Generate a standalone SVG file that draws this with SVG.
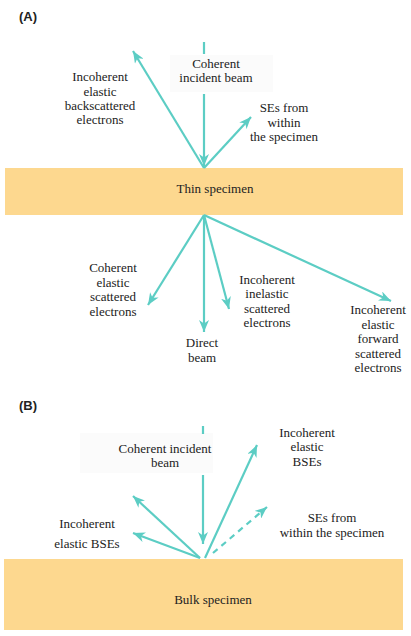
<svg xmlns="http://www.w3.org/2000/svg" width="411" height="636" viewBox="0 0 411 636">
<defs>
<marker id="ah" markerUnits="userSpaceOnUse" markerWidth="13" markerHeight="10" refX="12" refY="5" orient="auto">
<path d="M0,0 L12,5 L0,10 L3.5,5 Z" fill="#5ccdc4"/>
</marker>
<style>
.ar{stroke:#5ccdc4;stroke-width:2.2;fill:none;marker-end:url(#ah)}
.ln{stroke:#5ccdc4;stroke-width:2.2;fill:none}
.dash{stroke-dasharray:6,5}
.t{font-family:"Liberation Serif","Times New Roman",serif;font-size:13px;fill:#222;text-anchor:middle}
.h{font-family:"Liberation Sans",Arial,sans-serif;font-size:13px;font-weight:bold;fill:#222}
.spec{fill:#fdd88f}
.lb{fill:#fbfbfb}
</style>
</defs>
<rect width="411" height="636" fill="#fff"/>
<text class="h" x="19" y="21">(A)</text>
<text class="h" x="19" y="410">(B)</text>

<g id="thin-specimen">
<rect class="spec" x="5" y="168" width="398" height="47"/>
<text class="t" x="215" y="193">Thin specimen</text>
</g>
<g id="bulk-specimen">
<rect class="spec" x="4" y="559" width="399" height="71"/>
<text class="t" x="213" y="604">Bulk specimen</text>
</g>

<g id="labels-a">
<rect class="lb" x="170" y="55" width="103" height="37"/>
<text class="t" x="216" y="68">Coherent</text>
<text class="t" x="216" y="82">incident beam</text>
<text class="t" x="100" y="81">Incoherent</text>
<text class="t" x="100" y="96">elastic</text>
<text class="t" x="100" y="110">backscattered</text>
<text class="t" x="100" y="124">electrons</text>
<text class="t" x="284" y="112">SEs from</text>
<text class="t" x="284" y="127">within</text>
<text class="t" x="284" y="141">the specimen</text>
<text class="t" x="113" y="272">Coherent</text>
<text class="t" x="113" y="287">elastic</text>
<text class="t" x="113" y="301">scattered</text>
<text class="t" x="113" y="316">electrons</text>
<text class="t" x="202" y="347">Direct</text>
<text class="t" x="202" y="362">beam</text>
<text class="t" x="267" y="284">Incoherent</text>
<text class="t" x="267" y="298">inelastic</text>
<text class="t" x="267" y="313">scattered</text>
<text class="t" x="267" y="327">electrons</text>
<text class="t" x="378" y="314">Incoherent</text>
<text class="t" x="378" y="329">elastic</text>
<text class="t" x="378" y="343">forward</text>
<text class="t" x="378" y="358">scattered</text>
<text class="t" x="378" y="372">electrons</text>
</g>

<g id="labels-b">
<rect class="lb" x="80" y="433" width="133" height="40"/>
<text class="t" x="165" y="453">Coherent incident</text>
<text class="t" x="165" y="467">beam</text>
<text class="t" x="307" y="437">Incoherent</text>
<text class="t" x="307" y="451">elastic</text>
<text class="t" x="307" y="466">BSEs</text>
<text class="t" x="332" y="522">SEs from</text>
<text class="t" x="332" y="537">within the specimen</text>
<text class="t" x="87" y="528">Incoherent</text>
<text class="t" x="87" y="548">elastic BSEs</text>
</g>

<g id="connectors">
<line class="ln" x1="204" y1="42" x2="204" y2="54"/>
<line class="ar" x1="204" y1="94" x2="204" y2="166"/>
<line class="ar" x1="204" y1="168" x2="133" y2="51"/>
<line class="ar" x1="204" y1="168" x2="251" y2="117"/>
<line class="ar" x1="204" y1="215" x2="148" y2="305"/>
<line class="ar" x1="204" y1="215" x2="204" y2="332"/>
<line class="ar" x1="204" y1="215" x2="229" y2="309"/>
<line class="ar" x1="204" y1="215" x2="391" y2="301"/>

<line class="ln" x1="203" y1="426" x2="203" y2="434"/>
<line class="ar" x1="203" y1="475" x2="203" y2="544"/>
<line class="ar" x1="200" y1="558" x2="133" y2="496"/>
<line class="ar" x1="200" y1="558" x2="133" y2="533"/>
<line class="ar" x1="205" y1="558" x2="257" y2="445"/>
<line class="ar dash" x1="213" y1="553" x2="267" y2="507"/>
</g>
</svg>
